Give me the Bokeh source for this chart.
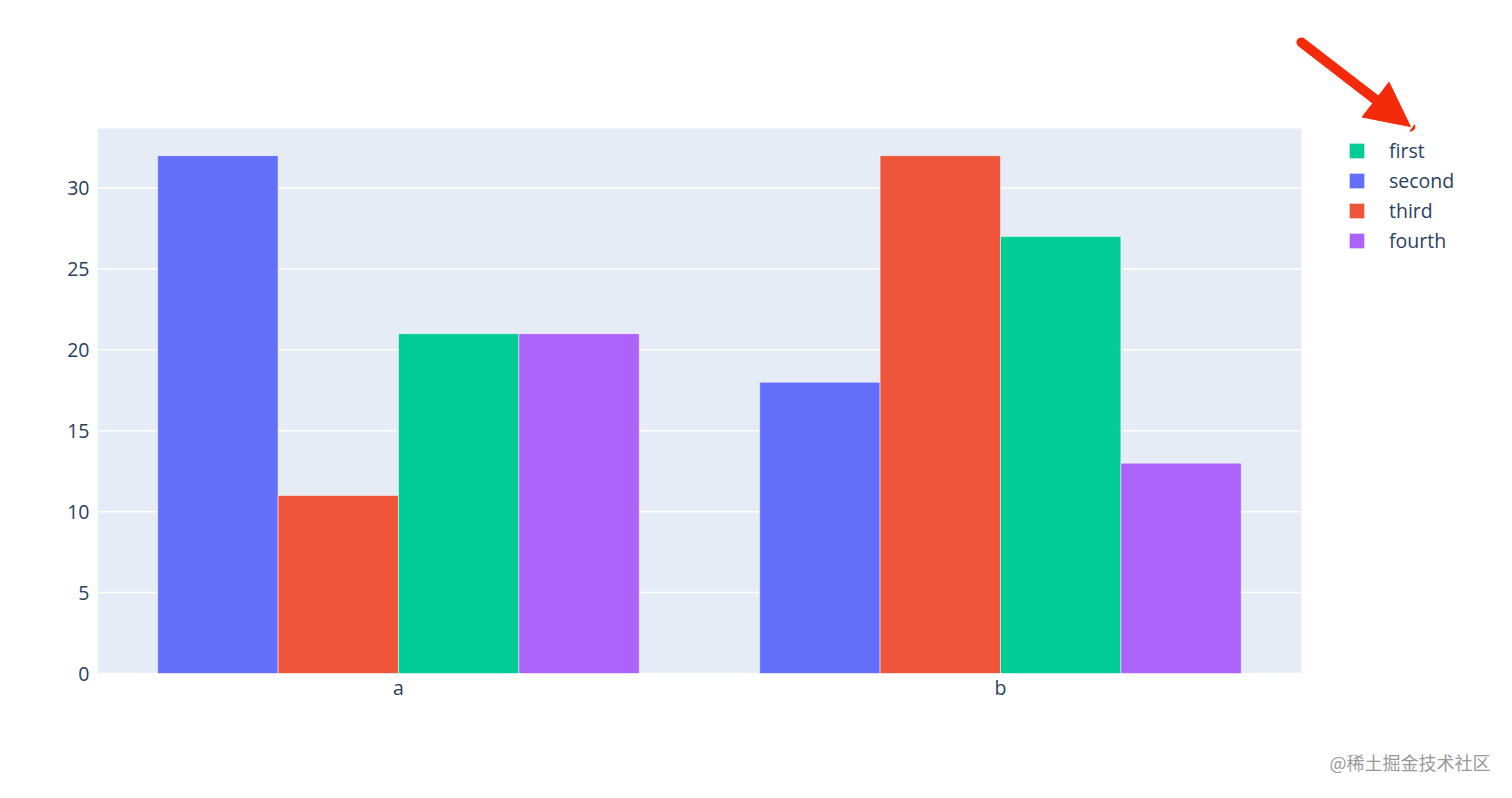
from bokeh.plotting import figure
from bokeh.models import (Range1d, ColumnDataSource, Legend, LegendItem, BoxAnnotation,
                          FixedTicker, Arrow, NormalHead, Title)
from bokeh.transform import dodge
from bokeh.embed import file_html
from bokeh.resources import INLINE

categories = ["a", "b"]
first = [21, 27]
second = [32, 18]
third = [11, 32]
fourth = [21, 13]
y_ticks = [0, 5, 10, 15, 20, 25, 30]

draw_order = [("second", "#636efa"), ("third", "#EF553B"),
              ("first", "#00cc96"), ("fourth", "#ab63fa")]
legend_order = ["first", "second", "third", "fourth"]

# category positions on a numeric axis (one unit per category, centred)
xpos = [i + 0.5 for i in range(len(categories))]
n_cat = len(categories)
y_top = max(max(first), max(second), max(third), max(fourth)) * 1.0525

src = ColumnDataSource(dict(x=xpos, first=first, second=second, third=third, fourth=fourth))

FONT = "Open Sans"
TXT = "#2a3f5f"
FS = "19.5px"

p = figure(x_range=Range1d(0, 2.324), y_range=Range1d(0, 41.59),
           frame_width=1399, frame_height=673,
           min_border_left=97, min_border_right=0, min_border_top=0, min_border_bottom=0,
           output_backend="svg", toolbar_location=None)
p.background_fill_color = "white"
p.border_fill_color = "white"
p.outline_line_color = None
p.grid.visible = False

p.add_layout(BoxAnnotation(left=0, right=n_cat, bottom=0, top=y_top,
                           fill_color="#e5ecf6", fill_alpha=1, line_color=None, level="image"))
grid = p.segment(x0=[0] * len(y_ticks), x1=[n_cat] * len(y_ticks), y0=y_ticks, y1=y_ticks,
                 line_color="white", line_width=1.5)
grid.level = "underlay"

offsets = [-0.3, -0.1, 0.1, 0.3]
rend = {}
for (name, col), off in zip(draw_order, offsets):
    r = p.vbar(x=dodge("x", off), top=name, width=0.2, source=src,
               fill_color=col, line_color="white", line_width=0.5)
    rend[name] = r

p.yaxis.ticker = FixedTicker(ticks=y_ticks)
p.xaxis.ticker = FixedTicker(ticks=xpos)
p.xaxis.major_label_overrides = {x: c for x, c in zip(xpos, categories)}
for ax in (p.xaxis[0], p.yaxis[0]):
    ax.axis_line_color = None
    ax.major_tick_line_color = None
    ax.minor_tick_line_color = None
    ax.major_label_text_font = FONT
    ax.major_label_text_font_size = FS
    ax.major_label_text_color = TXT
p.yaxis.major_label_standoff = 2
p.xaxis.major_label_standoff = -6

legend = Legend(items=[LegendItem(label=n, renderers=[rend[n]]) for n in legend_order],
                location=(1250, 419), padding=0, margin=0, spacing=3,
                glyph_width=19, glyph_height=19, label_height=19, label_standoff=23,
                label_text_font=FONT, label_text_font_size=FS, label_text_color=TXT,
                border_line_color=None, background_fill_alpha=0)
p.add_layout(legend, "center")

arrow_col = "#f52a0a"
p.add_layout(Arrow(x_start=2.0, y_start=39.0, x_end=2.181, y_end=33.8,
                   line_color=arrow_col, line_width=10, line_cap="round",
                   end=NormalHead(size=44, fill_color=arrow_col, line_color=arrow_col)))

p.add_layout(Title(text="@稀土掘金技术社区", align="right", text_font="Noto Sans CJK SC",
                   text_font_size="18px", text_font_style="normal", text_color="#999999",
                   standoff=86, offset=6), "below")

open("out.html", "w").write(file_html(p, INLINE))
